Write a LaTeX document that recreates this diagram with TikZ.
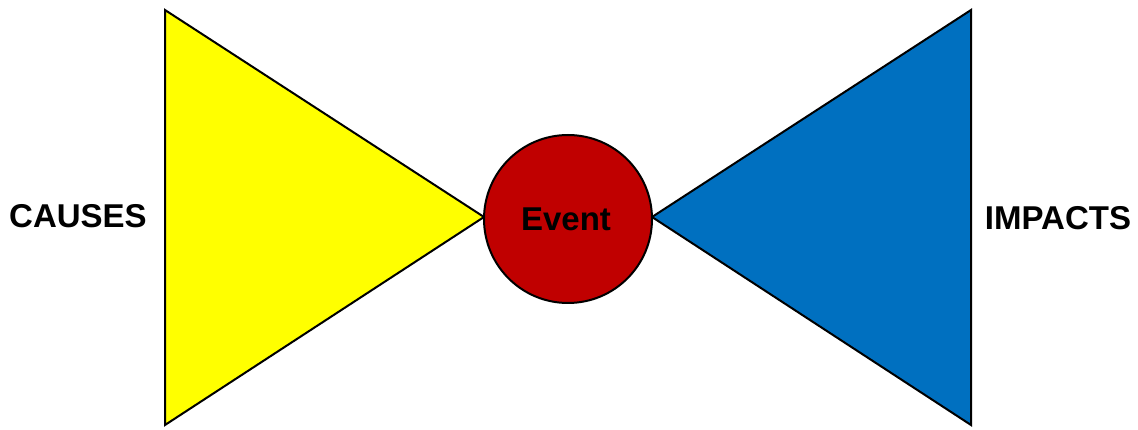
\documentclass[tikz,border=0pt]{standalone}
\usepackage{fontspec}
\setmainfont{Liberation Sans}
\definecolor{causeyellow}{HTML}{FFFF00}
\definecolor{eventred}{HTML}{C00000}
\definecolor{impactblue}{HTML}{0070C0}
\begin{document}
\begin{tikzpicture}[x=1pt,y=-1pt,
  wing/.style={draw=black,line width=2pt,line join=miter},
  label/.style={font=\fontsize{33}{39}\selectfont\bfseries,inner sep=0pt,text=black}]
\useasboundingbox (0,0) rectangle (1138,430);
\coordinate (ytop) at (165,10);
\coordinate (ybot) at (165,425);
\coordinate (yapex) at (484,217);
\coordinate (btop) at (971,10);
\coordinate (bbot) at (971,425);
\coordinate (bapex) at (652,217);
\fill[causeyellow] (ytop) -- (yapex) -- (ybot) -- cycle;
\draw[wing] (ytop) -- (yapex) -- (ybot) -- cycle;
\fill[impactblue] (btop) -- (bapex) -- (bbot) -- cycle;
\draw[wing] (btop) -- (bapex) -- (bbot) -- cycle;
\node[circle,draw=black,line width=2pt,fill=eventred,minimum size=168pt,inner sep=0pt] (event) at (568,219) {};
\node[label] (eventtext) at (566,219) {Event};
\node[label] (causes) at (78,216) {CAUSES};
\node[label] (impacts) at (1058,218) {IMPACTS};
\end{tikzpicture}
\end{document}
